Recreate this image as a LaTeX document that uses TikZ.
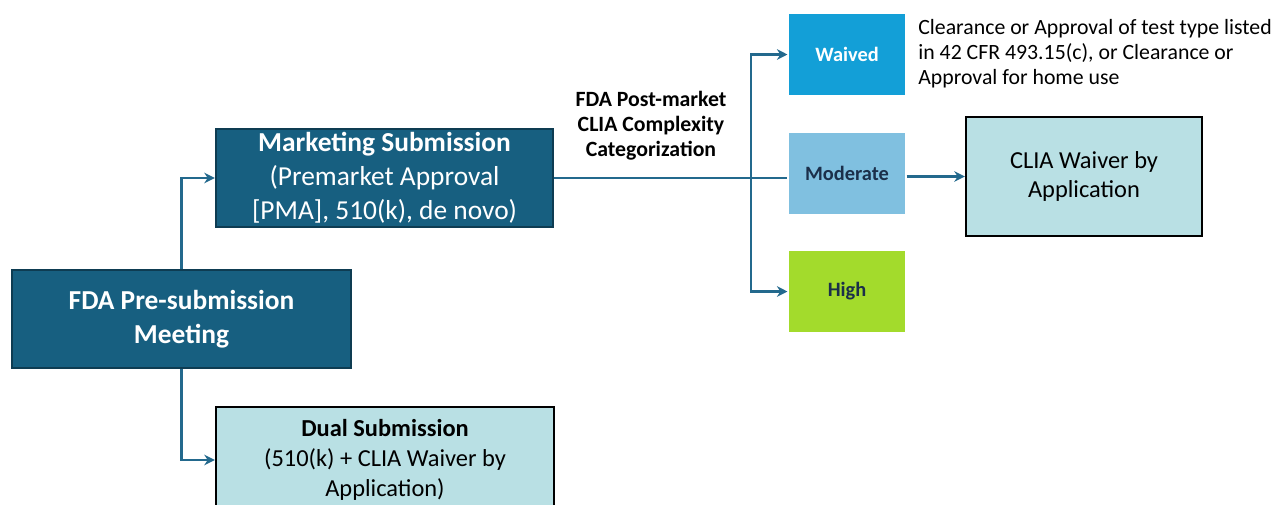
\documentclass[tikz,border=0pt]{standalone}
\usepackage{fontspec}
\setmainfont{Carlito}
\usepackage{tikz}
\usetikzlibrary{arrows.meta,calc}
\definecolor{darkfill}{HTML}{175F80}
\definecolor{darkline}{HTML}{0E3C52}
\definecolor{lightfill}{HTML}{B9E0E4}
\definecolor{waivedfill}{HTML}{139FD7}
\definecolor{modfill}{HTML}{80C0E0}
\definecolor{highfill}{HTML}{A3DB2C}
\definecolor{navytext}{HTML}{1B2F4A}
\definecolor{linkcol}{HTML}{23698D}
\newcommand{\bigfont}{\fontsize{15.6}{19.3}\selectfont}
\newcommand{\midfont}{\fontsize{13.9}{17}\selectfont}
\newcommand{\smallfont}{\fontsize{11.6}{14.3}\selectfont}
\newcommand{\notefont}{\fontsize{12.4}{14.3}\selectfont}

\begin{document}
\begin{tikzpicture}[x=0.02cm,y=-0.02cm]
            \tikzset{darkbox/.style = {draw=darkline, line width=1.4pt, fill=darkfill, text=white,
                        align=center, inner sep=0pt, font=\bigfont},
                     lightbox/.style = {draw=black, line width=1.4pt, fill=lightfill, text=black,
                        align=center, inner sep=0pt},
                     catbox/.style = {draw=white, line width=0.6pt, align=center, inner sep=0pt,
                        minimum width=2.36cm, minimum height=1.66cm, font=\smallfont\bfseries},
                     link/.style = {draw=linkcol, line width=1.4pt},
                     linkarrow/.style = {link, -{Stealth[length=6pt,width=6pt]}}}
            \useasboundingbox (0,0) rectangle (1275,504);
            \node[darkbox, minimum width=6.78cm, minimum height=1.96cm] (pre) at (181.5,319)
                {\textbf{FDA Pre-submission}\\\textbf{Meeting}};
            \node[darkbox, minimum width=6.74cm, minimum height=1.96cm] (mkt) at (384.5,178)
                {\textbf{Marketing Submission}\\(Premarket Approval\\{[PMA]}, 510(k), de novo)};
            \node[lightbox, font=\midfont, minimum width=6.76cm, minimum height=2.12cm] (dual) at (385,460)
                {\textbf{Dual Submission}\\(510(k) + CLIA Waiver by\\Application)};
            \node[catbox, fill=waivedfill, text=white] (waived) at (847,54.5) {Waived};
            \node[catbox, fill=modfill, text=navytext] (mod) at (847,173.5) {Moderate};
            \node[catbox, fill=highfill, text=navytext] (high) at (847,291.5) {High};
            \node[lightbox, font=\midfont, minimum width=4.72cm, minimum height=2.38cm] (clia) at (1084,176.5)
                {CLIA Waiver by\\Application};
            \node[anchor=west, align=left, inner sep=0pt, font=\notefont] (note) at (918,54)
                {Clearance or Approval of test type listed\\in 42 CFR 493.15(c), or Clearance or\\Approval for home use};
            \node[align=center, inner sep=0pt, font=\notefont\bfseries] (categ) at (651,125.5)
                {FDA Post-market\\CLIA Complexity\\Categorization};
            \coordinate (split) at (751,178);
            \draw[linkarrow] (pre.north) |- (mkt.west);
            \draw[linkarrow] (pre.south) |- (dual.west);
            \draw[link] (mkt.east) -- (mkt.east -| mod.west);
            \draw[linkarrow] (split) |- (waived.west);
            \draw[linkarrow] (split) |- (high.west);
            \draw[linkarrow] (clia.west -| mod.east) -- (clia.west);
        \end{tikzpicture}
\end{document}
